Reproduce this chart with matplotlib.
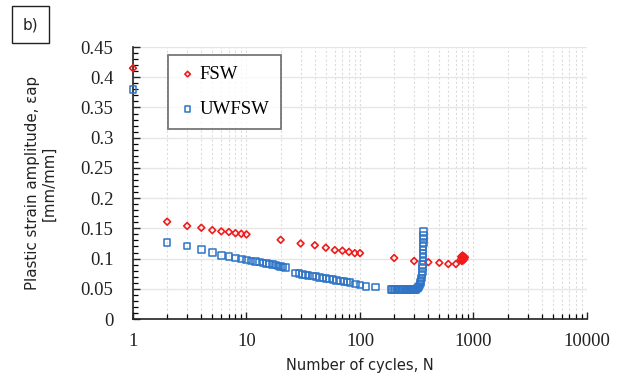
import matplotlib
matplotlib.use("Agg")
import matplotlib.pyplot as plt
from matplotlib.ticker import FixedLocator, LogLocator, NullFormatter, FuncFormatter, MultipleLocator
from matplotlib.patches import Rectangle

# --- data ------------------------------------------------------------------
fsw_n = [1, 2, 3, 4, 5, 6, 7, 8, 9, 10,
         20, 30, 40, 50, 60, 70, 80, 90, 100,
         200, 300, 400, 500, 600, 700,
         770, 780, 790, 800, 805, 810, 815, 820, 830, 840]
fsw_e = [0.415, 0.161, 0.154, 0.151, 0.147, 0.145, 0.144, 0.142, 0.141, 0.140,
         0.131, 0.125, 0.122, 0.118, 0.114, 0.113, 0.111, 0.109, 0.109,
         0.101, 0.096, 0.094, 0.093, 0.091, 0.091,
         0.098, 0.103, 0.096, 0.105, 0.100, 0.097, 0.104, 0.101, 0.099, 0.102]

uw_n = [1, 2, 3, 4, 5, 6, 7, 8, 9, 10,
        11, 12, 13, 14, 15, 16, 17, 18, 19, 20, 21, 22,
        27, 29, 31, 33, 35, 38, 41, 44, 47, 50, 54, 58, 62, 67, 72, 77, 82, 91, 100, 113, 137,
        188, 194, 200, 206, 212, 218, 224, 230, 236, 242, 248, 254, 260, 266, 272, 278,
        284, 290, 296, 302, 308, 314, 320, 326, 332, 338, 342, 346, 349, 352, 354,
        356, 357, 358, 359, 359.5, 360, 360.5, 361, 361.5, 362, 362.5]
uw_e = [0.380, 0.127, 0.121, 0.115, 0.110, 0.105, 0.103, 0.101, 0.099, 0.098,
        0.096, 0.095, 0.094, 0.093, 0.092, 0.091, 0.090, 0.089, 0.088, 0.087, 0.086, 0.085,
        0.076, 0.075, 0.074, 0.073, 0.072, 0.071, 0.070, 0.069, 0.068, 0.067, 0.066, 0.065,
        0.064, 0.063, 0.062, 0.061, 0.060, 0.058, 0.056, 0.054, 0.053,
        0.049, 0.049, 0.049, 0.049, 0.049, 0.049, 0.049, 0.049, 0.049, 0.049, 0.049,
        0.049, 0.049, 0.049, 0.049, 0.049, 0.049, 0.049, 0.049, 0.049, 0.049, 0.050,
        0.051, 0.052, 0.054, 0.057, 0.060, 0.064, 0.068, 0.073, 0.078,
        0.084, 0.090, 0.096, 0.102, 0.108, 0.114, 0.120, 0.126, 0.132, 0.138, 0.145]

x_ticks = [1, 10, 100, 1000, 10000]
y_ticks = [0, 0.05, 0.1, 0.15, 0.2, 0.25, 0.3, 0.35, 0.4, 0.45]

RED = "#f01c1c"
BLUE = "#2f74c6"
SERIF = "Liberation Serif"

fig = plt.figure(figsize=(6.24, 3.82), dpi=100)
ax = fig.add_axes([0.2131, 0.1649, 0.7276, 0.712])

ax.scatter(fsw_n, fsw_e, marker="D", s=12, facecolors="none", edgecolors=RED,
           linewidths=1.2, label="FSW", clip_on=False, zorder=3)
ax.scatter(uw_n, uw_e, marker="s", s=22, facecolors="none", edgecolors=BLUE,
           linewidths=1.1, label="UWFSW", clip_on=False, zorder=3)

ax.set_xscale("log")
ax.set_xlim(1, 10000)
ax.set_ylim(0, 0.45)

ax.xaxis.set_major_locator(FixedLocator(x_ticks))
ax.xaxis.set_minor_locator(LogLocator(base=10, subs=range(2, 10)))
ax.xaxis.set_major_formatter(FuncFormatter(lambda v, p: f"{v:g}"))
ax.xaxis.set_minor_formatter(NullFormatter())
ax.yaxis.set_major_locator(FixedLocator(y_ticks))
ax.yaxis.set_minor_locator(MultipleLocator(0.01))
ax.yaxis.set_major_formatter(FuncFormatter(lambda v, p: f"{v:g}"))

ax.tick_params(which="major", direction="in", length=5, width=1.0,
               labelsize=13.5, colors="#222222", top=False, right=False)
ax.tick_params(which="minor", direction="in", length=3.5, width=0.9,
               top=False, right=False)
ax.tick_params(axis="y", which="major", pad=14)
ax.tick_params(axis="x", which="major", pad=10)
for lab in ax.get_xticklabels() + ax.get_yticklabels():
    lab.set_family(SERIF)

for s in ["top", "right"]:
    ax.spines[s].set_visible(False)
for s in ["left", "bottom"]:
    ax.spines[s].set_color("#222222")
    ax.spines[s].set_linewidth(1.2)

ax.grid(axis="y", which="major", color="#e6e6e6", linewidth=1.0)
ax.grid(axis="x", which="both", color="#dcdcdc", linewidth=0.8, linestyle=(0, (2, 2)))
ax.set_axisbelow(True)

ax.set_xlabel("Number of cycles, N", fontsize=10.5, color="#222222", labelpad=6)
ax.set_ylabel("Plastic strain amplitude, εap\n[mm/mm]", fontsize=10.8,
              color="#222222", labelpad=17, linespacing=1.15)

leg = ax.legend(loc="upper left", bbox_to_anchor=(0.077, 0.972), frameon=True,
                fancybox=False, edgecolor="#555555", prop={"family": SERIF, "size": 13.5},
                handletextpad=0.2, labelspacing=0.95, borderpad=0.6, markerscale=0.8,
                handlelength=0.9, borderaxespad=0)
leg.get_frame().set_linewidth(1.3)

# panel tag "b)"
fig.patches.append(Rectangle((12 / 624, 1 - 43 / 382), 37 / 624, 37 / 382,
                             transform=fig.transFigure, fill=False,
                             edgecolor="#222222", linewidth=1.0))
fig.text(30.5 / 624, 1 - 24.5 / 382, "b)", ha="center", va="center",
         fontsize=11, color="#222222")

fig.savefig("out.png", dpi=100)
